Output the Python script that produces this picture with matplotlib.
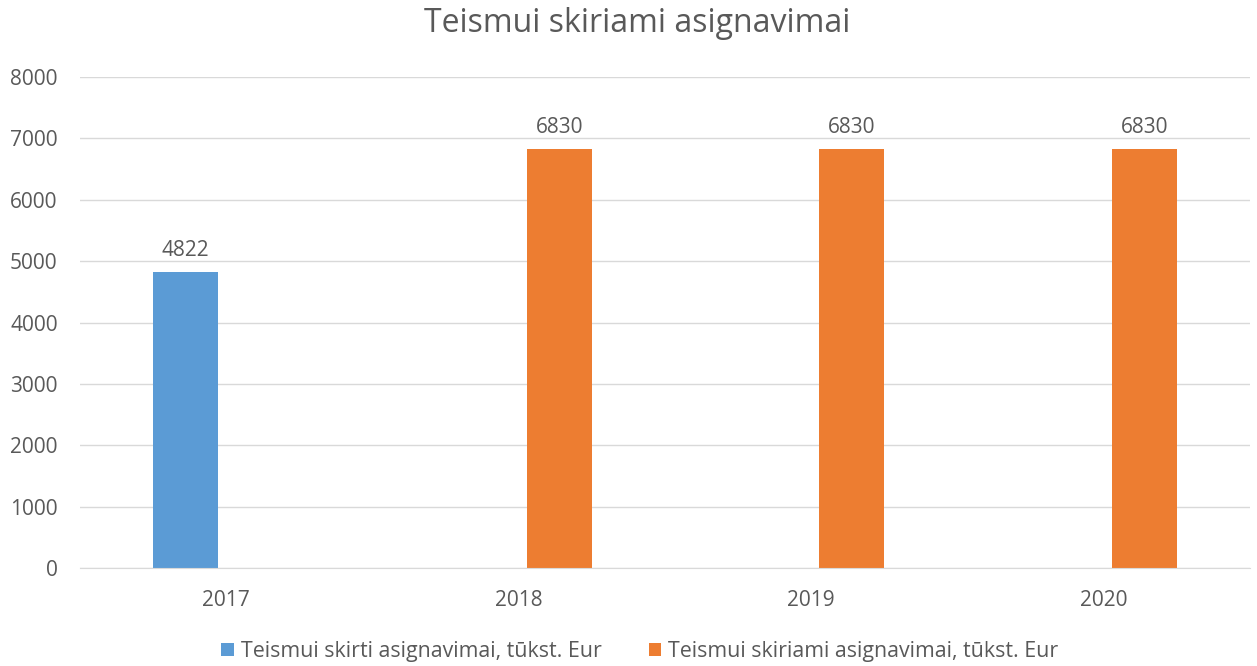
import numpy as np
import matplotlib.pyplot as plt

plt.rcParams['font.family'] = ['Open Sans', 'DejaVu Sans']

years = ['2017', '2018', '2019', '2020']
skirti = [4822, np.nan, np.nan, np.nan]        # Teismui skirti asignavimai
skiriami = [np.nan, 6830, 6830, 6830]          # Teismui skiriami asignavimai

blue = '#5B9BD5'
orange = '#ED7D31'
txt = '#595959'

fig = plt.figure(figsize=(12.57, 6.66), dpi=100)
ax = fig.add_axes([0.0636, 0.1471, 0.9308, 0.7373])

x = np.arange(len(years))
w = 0.222
off = 0.139
b1 = ax.bar(x - off, skirti, w, color=blue, label='Teismui skirti asignavimai, tūkst. Eur')
b2 = ax.bar(x + off, skiriami, w, color=orange, label='Teismui skiriami asignavimai, tūkst. Eur')

for bars, vals in ((b1, skirti), (b2, skiriami)):
    for rect, v in zip(bars, vals):
        if not np.isnan(v):
            ax.annotate(f'{v:.0f}', (rect.get_x() + rect.get_width() / 2, v),
                        xytext=(0, 8), textcoords='offset points',
                        ha='center', va='bottom', fontsize=15, color=txt)

ax.set_xlim(-0.5, len(years) - 0.5)
ax.set_ylim(0, 8000)
ax.set_yticks(range(0, 8001, 1000))
ax.set_xticks(x)
ax.set_xticklabels(years)
ax.tick_params(axis='both', length=0, labelsize=15, labelcolor=txt)
ax.tick_params(axis='x', pad=16)
ax.tick_params(axis='y', pad=16)

ax.grid(axis='y', color='#D9D9D9', linewidth=1)
ax.set_axisbelow(True)
for s in ('top', 'right', 'left'):
    ax.spines[s].set_visible(False)
ax.spines['bottom'].set_color('#D9D9D9')

fig.text(0.507, 0.965, 'Teismui skiriami asignavimai', fontsize=23, color=txt,
         ha='center', va='center')

fig.legend(loc='center', bbox_to_anchor=(0.509, 0.022), ncol=2, frameon=False,
           fontsize=15.4, labelcolor=txt, handlelength=0.6, handleheight=0.6,
           handletextpad=0.3, columnspacing=2.2)

fig.savefig('out.png', dpi=100)
